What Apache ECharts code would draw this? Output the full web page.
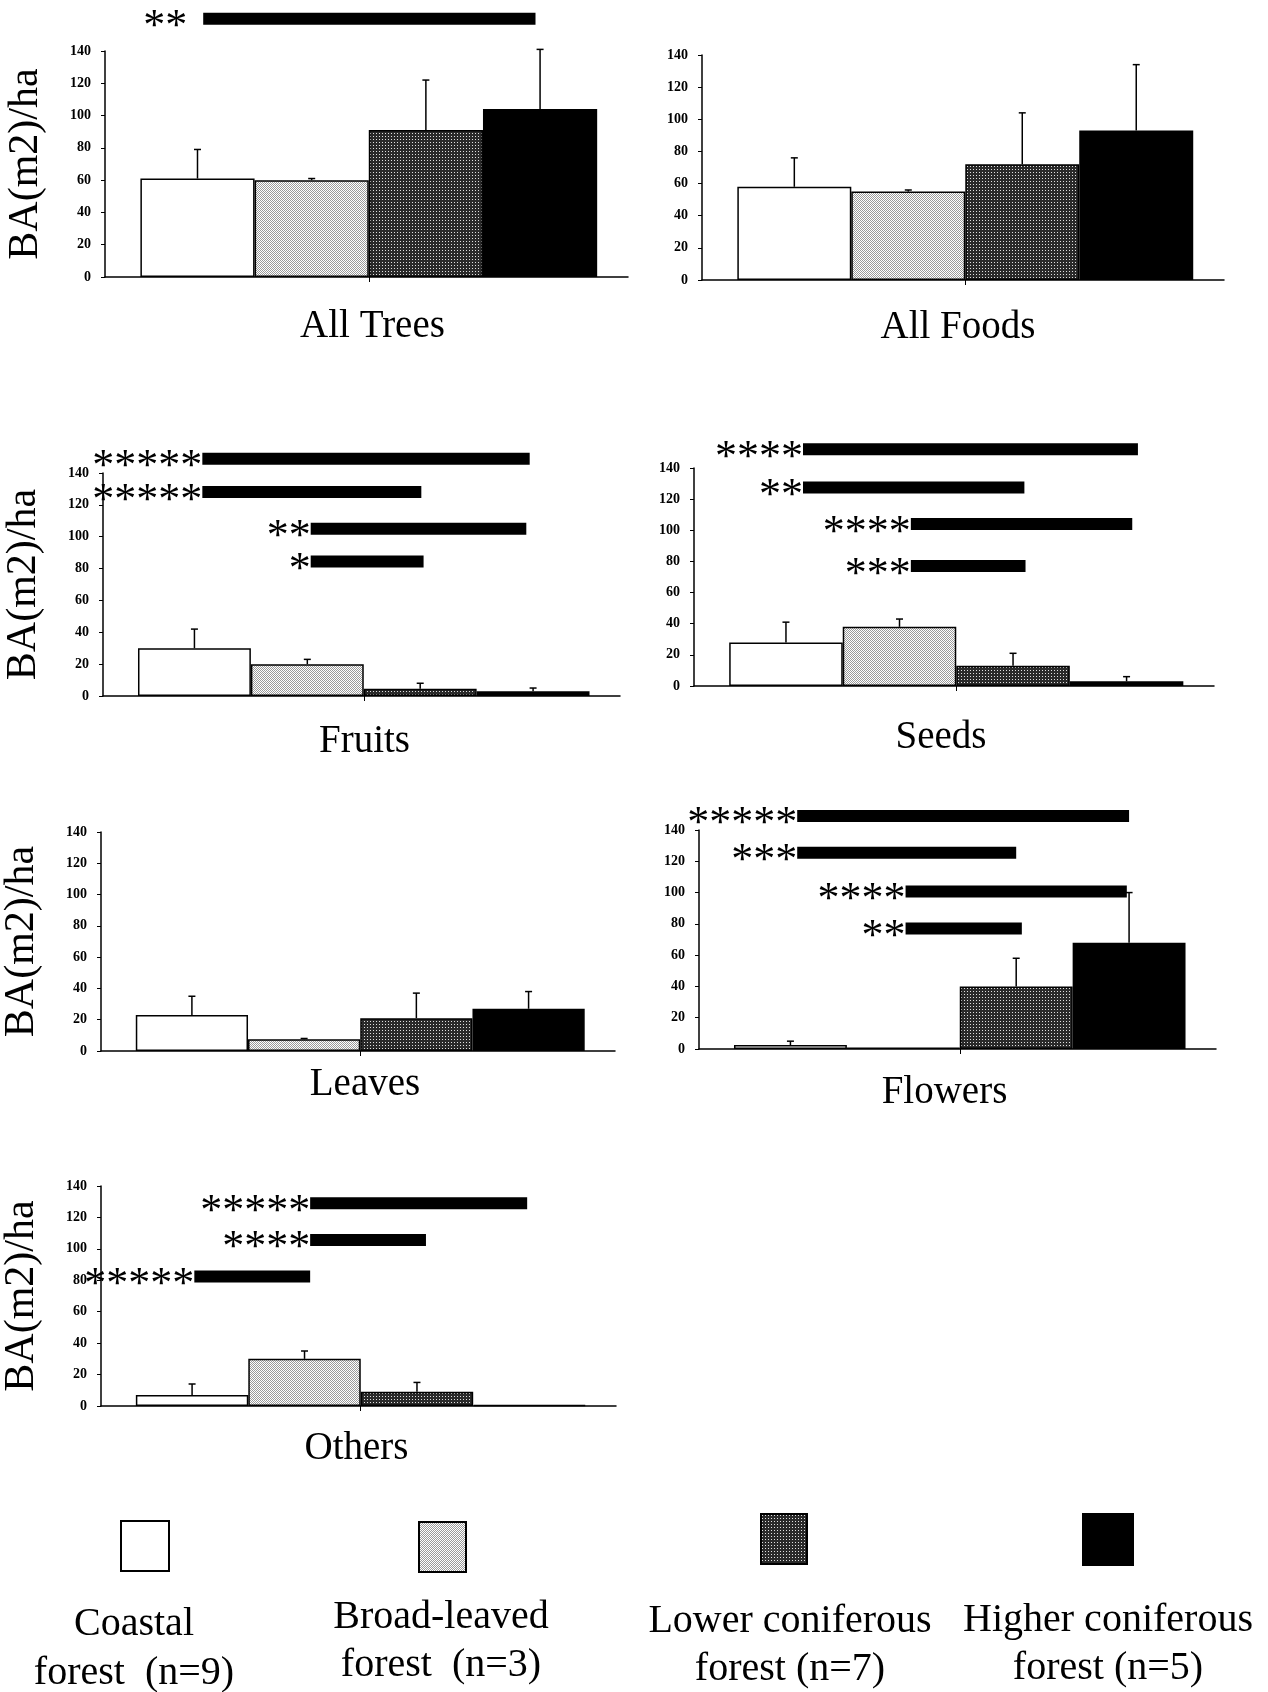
<!DOCTYPE html>
<html><head><meta charset="utf-8">
<script src="https://cdn.jsdelivr.net/npm/echarts@6/dist/echarts.min.js"></script>
<style>html,body{margin:0;padding:0;background:#fff}#chart{width:1268px;height:1692px}</style>
</head><body><div id="chart"></div>
<script>
// ---------- DATA ----------
const forestTypes = ['Coastal forest (n=9)', 'Broad-leaved forest (n=3)', 'Lower coniferous forest (n=7)', 'Higher coniferous forest (n=5)'];
const legendLine1 = ['Coastal', 'Broad-leaved', 'Lower coniferous', 'Higher coniferous'];
const legendLine2 = ['forest  (n=9)', 'forest  (n=3)', 'forest (n=7)', 'forest (n=5)'];
const panelNames = ['All Trees', 'All Foods', 'Fruits', 'Seeds', 'Leaves', 'Flowers', 'Others'];
const yAxisTitle = 'BA(m2)/ha';

// mean basal area and top of SD whisker, per forest type
const allTreesMean  = [61, 60, 91, 104];
const allTreesUpper = [79, 61, 122, 141];
const allFoodsMean  = [58, 55, 72, 93];
const allFoodsUpper = [76, 56, 104, 134];
const fruitsMean    = [30, 20, 4.5, 3];
const fruitsUpper   = [42, 23, 8, 5];
const seedsMean     = [28, 38, 13, 3];
const seedsUpper    = [41, 43, 21, 6];
const leavesMean    = [23, 7.5, 21, 27];
const leavesUpper   = [35, 8, 37, 38];
const flowersMean   = [2.5, 1, 40, 68];
const flowersUpper  = [5, 1, 58, 100];
const othersMean    = [7, 30, 9, 0.5];
const othersUpper   = [14, 35, 15, 0.5];

// significance brackets: [from (bar index units), to, height (BA), end of stars], stars
const allTreesSig = [[0.05, 2.96, 160, -0.09]];
const allTreesStars = ['**'];
const allFoodsSig = [];
const allFoodsStars = [];
const fruitsSig = [[0.07, 2.97, 149, 0.07], [0.07, 2.01, 128, 0.07], [1.03, 2.94, 105, 1.03], [1.03, 2.03, 84.5, 1.03]];
const fruitsStars = ['*****', '*****', '**', '*'];
const seedsSig = [[0.15, 3.10, 152, 0.15], [0.15, 2.10, 127.5, 0.15], [1.10, 3.05, 104, 1.10], [1.10, 2.11, 77, 1.10]];
const seedsStars = ['****', '**', '****', '***'];
const leavesSig = [];
const leavesStars = [];
const flowersSig = [[0.06, 3.0, 149, 0.06], [0.06, 2.0, 125.5, 0.06], [1.02, 2.98, 100.7, 1.02], [1.02, 2.05, 77, 1.02]];
const flowersStars = ['*****', '***', '****', '**'];
const othersSig = [[1.05, 2.98, 129, 1.05], [1.05, 2.08, 105.7, 1.05], [0.02, 1.05, 82.4, 0.02]];
const othersStars = ['*****', '****', '*****'];

const panelMeans = [allTreesMean, allFoodsMean, fruitsMean, seedsMean, leavesMean, flowersMean, othersMean];
const panelUppers = [allTreesUpper, allFoodsUpper, fruitsUpper, seedsUpper, leavesUpper, flowersUpper, othersUpper];
const panelSigs = [allTreesSig, allFoodsSig, fruitsSig, seedsSig, leavesSig, flowersSig, othersSig];
const panelStars = [allTreesStars, allFoodsStars, fruitsStars, seedsStars, leavesStars, flowersStars, othersStars];

// ---------- LAYOUT ----------
const layout = [
  {left: 105, top: 51,   width: 523, height: 226, nameGap: 30, shift: 6,   yName: true},
  {left: 702, top: 55,   width: 522, height: 225, nameGap: 28, shift: -5,  yName: false},
  {left: 103, top: 473,  width: 517, height: 223, nameGap: 26, shift: 3,   yName: true},
  {left: 694, top: 468,  width: 520, height: 218, nameGap: 32, shift: -13, yName: false},
  {left: 100, top: 832,  width: 515, height: 219, nameGap: 14, shift: 7,   yName: true},
  {left: 699, top: 830,  width: 517, height: 219, nameGap: 24, shift: -13, yName: false},
  {left: 100, top: 1186, width: 516, height: 220, nameGap: 23, shift: -2,  yName: true}
];
const X_MIN = -0.81, X_MAX = 3.77;
const SERIF = '"Liberation Serif", "DejaVu Serif", serif';

function pattern(size, bg, fg, dots) {
  const c = document.createElement('canvas');
  c.width = size; c.height = size;
  const g = c.getContext('2d');
  g.fillStyle = bg; g.fillRect(0, 0, size, size);
  g.fillStyle = fg;
  dots.forEach(d => g.fillRect(d[0], d[1], 1, 1));
  return c;
}
const lightCanvas = pattern(2, '#ffffff', '#9a9a9a', [[0, 0], [1, 1]]);
const darkCanvas = pattern(3, '#2a2a2a', '#e0e0e0', [[1, 1]]);
const fills = [
  '#ffffff',
  {image: lightCanvas, repeat: 'repeat'},
  {image: darkCanvas, repeat: 'repeat'},
  '#000000'
];

const chart = echarts.init(document.getElementById('chart'), null, {renderer: 'canvas'});

const grids = [], xAxes = [], yAxes = [], series = [];
layout.forEach((L, i) => {
  grids.push({left: L.left, top: L.top, width: L.width, height: L.height, containLabel: false});
  const sh = L.shift * 2;
  xAxes.push({
    type: 'value', gridIndex: i, min: X_MIN, max: X_MAX,
    axisLine: {show: true, onZero: false, lineStyle: {color: '#000', width: 1.5}},
    axisTick: {show: true, customValues: [1.5], length: 5, lineStyle: {color: '#000'}},
    axisLabel: {show: false}, splitLine: {show: false},
    name: panelNames[i], nameLocation: 'middle', nameGap: L.nameGap,
    nameTextStyle: {fontFamily: SERIF, fontSize: 39, color: '#000',
      padding: [0, sh < 0 ? -sh : 0, 0, sh > 0 ? sh : 0]}
  });
  yAxes.push({
    type: 'value', gridIndex: i, min: 0, max: 140, interval: 20,
    axisLine: {show: true, onZero: false, lineStyle: {color: '#000', width: 1.5}},
    axisTick: {show: true, length: 4, lineStyle: {color: '#000'}},
    axisLabel: {fontFamily: SERIF, fontSize: 14, fontWeight: 'bold', color: '#000', margin: 14},
    splitLine: {show: false},
    name: L.yName ? yAxisTitle : '', nameLocation: 'middle', nameGap: 58,
    nameTextStyle: {fontFamily: SERIF, fontSize: 42, color: '#000'}
  });
  const means = panelMeans[i], uppers = panelUppers[i];
  series.push({
    type: 'bar', name: panelNames[i], xAxisIndex: i, yAxisIndex: i,
    barCategoryGap: '0%', silent: true, animation: false,
    data: means.map((v, k) => ({value: [k, v], name: forestTypes[k], itemStyle: {color: fills[k]}})),
    itemStyle: {borderColor: '#000', borderWidth: 1.5}
  });
  series.push({
    type: 'custom', name: panelNames[i] + ' SD', xAxisIndex: i, yAxisIndex: i,
    silent: true, animation: false, z: 5,
    data: means.map((v, k) => [k, v, uppers[k]]),
    renderItem: function (params, api) {
      const x = api.value(0), lo = api.value(1), hi = api.value(2);
      if (!(hi > lo)) return null;
      const p0 = api.coord([x, lo]), p1 = api.coord([x, hi]);
      return {type: 'group', children: [
        {type: 'line', shape: {x1: p0[0], y1: p0[1], x2: p1[0], y2: p1[1]}, style: {stroke: '#000', lineWidth: 1.5}},
        {type: 'line', shape: {x1: p1[0] - 3.5, y1: p1[1], x2: p1[0] + 3.5, y2: p1[1]}, style: {stroke: '#000', lineWidth: 1.5}}
      ]};
    }
  });
  const sigs = panelSigs[i], stars = panelStars[i];
  if (sigs.length) {
    series.push({
      type: 'custom', name: panelNames[i] + ' significance', xAxisIndex: i, yAxisIndex: i,
      silent: true, animation: false, z: 6, clip: false,
      data: sigs,
      renderItem: function (params, api) {
        const x0 = api.value(0), x1 = api.value(1), y = api.value(2), xs = api.value(3);
        const p0 = api.coord([x0, y]), p1 = api.coord([x1, y]), ps = api.coord([xs, y]);
        return {type: 'group', children: [
          {type: 'rect', shape: {x: p0[0], y: p0[1] - 6, width: p1[0] - p0[0], height: 12}, style: {fill: '#000'}},
          {type: 'text', x: ps[0], y: p0[1] + 9, style: {text: stars[params.dataIndex], fill: '#000', font: '44px ' + SERIF, align: 'right', verticalAlign: 'middle'}}
        ]};
      }
    });
  }
});

// legend drawn as graphic (swatch above two-line label)
const legendBoxes = [[120, 1520, 48, 50], [418, 1521, 47, 50], [760, 1513, 46, 50], [1082, 1513, 50, 51]];
const legendText = [[134, 1624, 1673], [441, 1617, 1665], [790, 1621, 1669], [1108, 1620, 1668]];
const graphic = [];
forestTypes.forEach((t, k) => {
  const b = legendBoxes[k], tx = legendText[k];
  graphic.push({type: 'rect', left: b[0], top: b[1], shape: {width: b[2], height: b[3]},
    style: {fill: fills[k], stroke: '#000', lineWidth: 2}});
  graphic.push({type: 'text', x: tx[0], y: tx[1], style: {text: legendLine1[k], font: '40px ' + SERIF, fill: '#000', align: 'center', verticalAlign: 'middle'}});
  graphic.push({type: 'text', x: tx[0], y: tx[2], style: {text: legendLine2[k], font: '40px ' + SERIF, fill: '#000', align: 'center', verticalAlign: 'middle'}});
});

chart.setOption({
  backgroundColor: '#fff',
  animation: false,
  grid: grids, xAxis: xAxes, yAxis: yAxes, series: series, graphic: graphic
});
</script></body></html>
